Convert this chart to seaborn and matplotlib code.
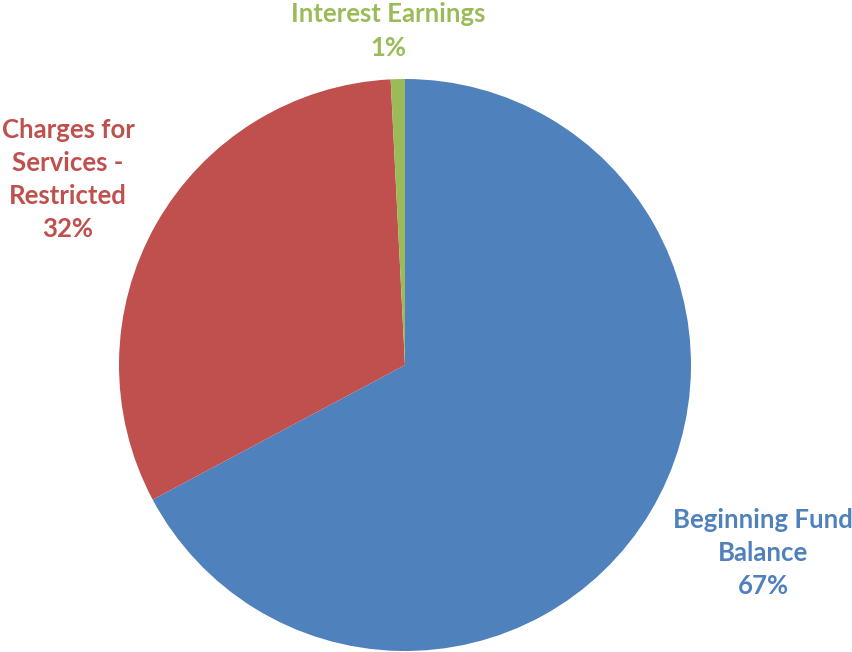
import matplotlib
matplotlib.use("Agg")
import matplotlib.pyplot as plt
import seaborn as sns

# slice data (clockwise from 12 o'clock)
categories = ["Beginning Fund\nBalance", "Charges for\nServices -\nRestricted", "Interest Earnings"]
values = [67.2, 32.0, 0.8]
colors = ["#4F81BD", "#C0504D", "#9BBB59"]

sns.set_theme(style="white")
plt.rcParams['font.family'] = ['Lato', 'DejaVu Sans']

W, H = 853, 652
fig = plt.figure(figsize=(W / 100, H / 100), dpi=100)

# pie centre / radius in pixels
cx, cy, r = 405, 365, 286
ax = fig.add_axes([(cx - r) / W, (H - cy - r) / H, 2 * r / W, 2 * r / H])

wedges, _ = ax.pie(values, colors=colors, startangle=90, counterclock=False,
                   radius=1.0, wedgeprops=dict(linewidth=0))
ax.set_xlim(-1, 1)
ax.set_ylim(-1, 1)
ax.set_aspect("equal")
ax.axis("off")

# label centres in pixels
label_px = [(763, 553), (68, 180), (388, 31)]
total = sum(values)
for name, val, col, (px, py) in zip(categories, values, colors, label_px):
    ax.text((px - cx) / r, (cy - py) / r, f"{name}\n{round(val / total * 100):.0f}%",
            ha="center", va="center", color=col, fontsize=18.5, fontweight="bold",
            linespacing=1.45, clip_on=False)

fig.savefig("out.png", dpi=100)
